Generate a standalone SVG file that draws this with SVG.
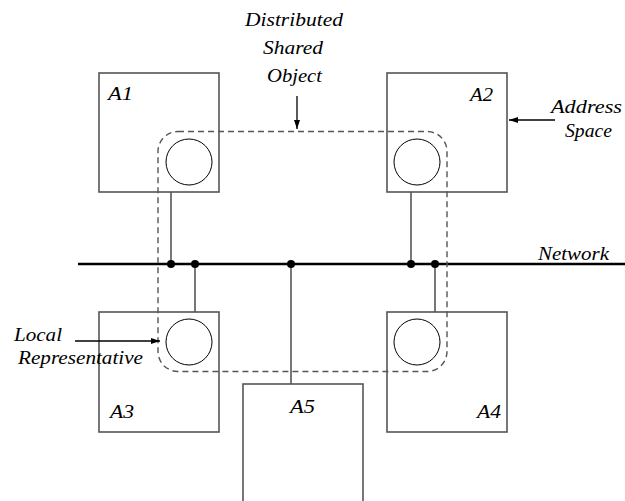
<svg xmlns="http://www.w3.org/2000/svg" width="625" height="501" viewBox="0 0 625 501">
<style>
.box{fill:#fff;stroke:#555;stroke-width:1.6}
.rep{fill:none;stroke:#000;stroke-width:1}
.wire{stroke:#555;stroke-width:1.6;fill:none}
.net{stroke:#000;stroke-width:2.5}
.dot{fill:#000}
.dash{fill:none;stroke:#555;stroke-width:1.4;stroke-dasharray:6,4}
.lbl{font-family:"Liberation Serif","DejaVu Serif","Times New Roman",serif;font-style:italic;font-size:19px;fill:#000}
.arr{stroke:#000;stroke-width:1.3;fill:none}
</style>
<defs>
<marker id="ah" markerWidth="10" markerHeight="8" refX="9" refY="4" orient="auto" markerUnits="userSpaceOnUse">
<path d="M0,1 L9,4 L0,7 Z" fill="#000"/>
</marker>
</defs>
<rect width="625" height="501" fill="#fff"/>
<g id="connectors">
<line class="net" x1="78" y1="264" x2="625" y2="264"/>
<line class="wire" x1="171" y1="192" x2="171" y2="264"/>
<line class="wire" x1="195" y1="264" x2="195" y2="312"/>
<line class="wire" x1="291" y1="264" x2="291" y2="384"/>
<line class="wire" x1="411" y1="192" x2="411" y2="264"/>
<line class="wire" x1="435" y1="264" x2="435" y2="312"/>
<circle class="dot" cx="171" cy="264" r="4"/>
<circle class="dot" cx="195" cy="264" r="4"/>
<circle class="dot" cx="291" cy="264" r="4"/>
<circle class="dot" cx="411" cy="264" r="4"/>
<circle class="dot" cx="435" cy="264" r="4"/>
</g>
<g id="A1">
<rect class="box" x="99" y="73" width="120" height="119"/>
<circle class="rep" cx="189" cy="162" r="23"/>
<text class="lbl" x="108" y="100" textLength="25" lengthAdjust="spacingAndGlyphs">A1</text>
</g>
<g id="A2">
<rect class="box" x="387" y="73" width="120" height="119"/>
<circle class="rep" cx="417" cy="162" r="23"/>
<text class="lbl" x="470" y="101" textLength="23" lengthAdjust="spacingAndGlyphs">A2</text>
</g>
<g id="A3">
<rect class="box" x="99" y="312" width="120" height="120"/>
<circle class="rep" cx="189" cy="342" r="23"/>
<text class="lbl" x="110" y="418" textLength="24" lengthAdjust="spacingAndGlyphs">A3</text>
</g>
<g id="A4">
<rect class="box" x="387" y="312" width="120" height="120"/>
<circle class="rep" cx="417" cy="342" r="23"/>
<text class="lbl" x="477" y="418" textLength="24" lengthAdjust="spacingAndGlyphs">A4</text>
</g>
<g id="A5">
<rect class="box" x="243" y="384" width="120" height="130"/>
<text class="lbl" x="290" y="413" textLength="25" lengthAdjust="spacingAndGlyphs">A5</text>
</g>
<g id="dso">
<rect class="dash" x="158" y="131.5" width="289" height="240" rx="20" ry="20"/>
</g>
<g id="annotations">
<text class="lbl" x="245" y="26" textLength="98" lengthAdjust="spacingAndGlyphs">Distributed</text>
<text class="lbl" x="263" y="54" textLength="60" lengthAdjust="spacingAndGlyphs">Shared</text>
<text class="lbl" x="267" y="82" textLength="55" lengthAdjust="spacingAndGlyphs">Object</text>
<line class="arr" x1="297" y1="96" x2="297" y2="129" marker-end="url(#ah)"/>
<text class="lbl" x="551" y="113" textLength="71" lengthAdjust="spacingAndGlyphs">Address</text>
<text class="lbl" x="565" y="137" textLength="47" lengthAdjust="spacingAndGlyphs">Space</text>
<line class="arr" x1="555" y1="120" x2="509" y2="120" marker-end="url(#ah)"/>
<text class="lbl" x="14" y="341" textLength="48" lengthAdjust="spacingAndGlyphs">Local</text>
<text class="lbl" x="18" y="364" textLength="125" lengthAdjust="spacingAndGlyphs">Representative</text>
<line class="arr" x1="75" y1="341" x2="160" y2="341" marker-end="url(#ah)"/>
<text class="lbl" x="538" y="260" textLength="71" lengthAdjust="spacingAndGlyphs">Network</text>
</g>
</svg>
